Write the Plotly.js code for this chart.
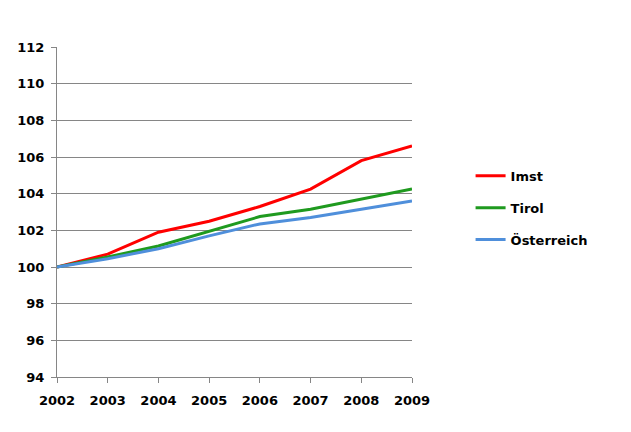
<!DOCTYPE html>
<html><head><meta charset="utf-8">
<script src="https://cdn.plot.ly/plotly-3.0.1.min.js"></script>
<style>body{margin:0;background:#fff}#c{width:631px;height:432px}</style>
</head><body><div id="c"></div>
<script>
const years = [2002, 2003, 2004, 2005, 2006, 2007, 2008, 2009];
const imst = [100, 100.7, 101.9, 102.5, 103.3, 104.25, 105.8, 106.6];
const tirol = [100, 100.55, 101.15, 101.95, 102.75, 103.15, 103.7, 104.25];
const oesterreich = [100, 100.45, 101.0, 101.7, 102.35, 102.7, 103.15, 103.6];
const names = ['Imst', 'Tirol', 'Österreich'];
const colors = ['#ff0000', '#1f9a1f', '#4f8fdb'];
const series = [imst, tirol, oesterreich];
const font = {family: 'DejaVu Sans, Verdana, sans-serif', size: 13, color: '#000', weight: 'bold'};
const traces = series.map((s, i) => ({
  x: years, y: s, name: names[i], type: 'scatter', mode: 'lines',
  line: {color: colors[i], width: 3}, legendgroup: 'g' + i
}));
Plotly.newPlot('c', traces, {
  width: 631, height: 432,
  margin: {l: 57, r: 219, t: 47, b: 55},
  paper_bgcolor: '#fff', plot_bgcolor: '#fff',
  showlegend: true,
  legend: {x: 1.165, y: 0.655, xanchor: 'left', yanchor: 'top', font: font,
           traceorder: 'grouped', tracegroupgap: 12, itemwidth: 30},
  xaxis: {range: [2002, 2009], tickvals: years, ticktext: years.map(String),
          showgrid: false, showline: true, linecolor: '#868686', linewidth: 1,
          ticks: 'outside', ticklen: 5, tickcolor: '#868686', tickfont: font, zeroline: false,
          ticklabelstandoff: 6},
  yaxis: {range: [94, 112], dtick: 2, tick0: 94, showgrid: true, gridcolor: '#868686', gridwidth: 1,
          showline: true, linecolor: '#868686', linewidth: 1, ticks: 'outside', ticklen: 5,
          tickcolor: '#868686', tickfont: font, zeroline: false, ticklabelstandoff: 4}
}, {displayModeBar: false, staticPlot: true});
</script></body></html>
